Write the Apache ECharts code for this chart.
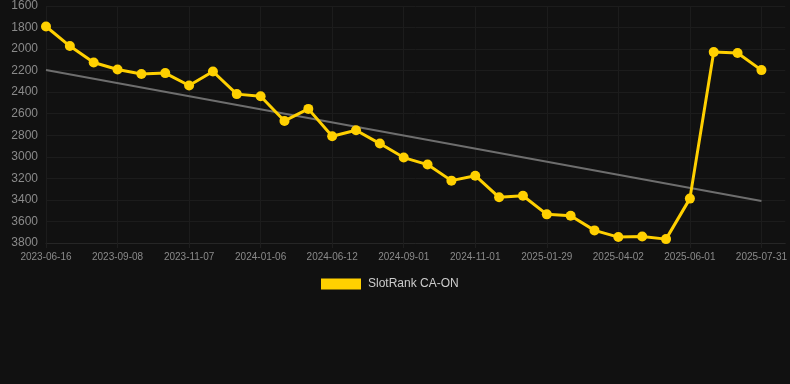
<!DOCTYPE html>
<html>
<head>
<meta charset="utf-8">
<script src="https://cdn.jsdelivr.net/npm/echarts@6/dist/echarts.min.js"></script>
<style>
html,body{margin:0;padding:0;background:#111111;}
#c{width:790px;height:384px;}
</style>
</head>
<body>
<div id="c"></div>
<script>
// Tick labels shown every 3rd point on the x axis
var tickLabels = ['2023-06-16','2023-09-08','2023-11-07','2024-01-06','2024-06-12','2024-09-01','2024-11-01','2025-01-29','2025-04-02','2025-06-01','2025-07-31'];
// SlotRank CA-ON values (31 points)
var rankValues = [1790,1972,2124,2189,2232,2223,2338,2208,2418,2437,2667,2555,2809,2753,2877,3007,3072,3221,3175,3376,3361,3534,3547,3683,3745,3739,3764,3388,2028,2037,2195];
// Trend line end points
var trendStart = 2195;
var trendEnd = 3410;
var yTicks = [1600,3800];

var n = rankValues.length;
var categories = [];
for (var i = 0; i <= n; i++) categories.push(String(i));
var trendData = [];
for (var j = 0; j < n; j++) trendData.push(j === 0 ? trendStart : (j === n - 1 ? trendEnd : null));

var chart = echarts.init(document.getElementById('c'), null, {renderer:'canvas'});
chart.setOption({
  backgroundColor: '#111111',
  animation: false,
  grid: {left: 46, right: 4, top: 6, bottom: 141},
  legend: {
    top: 273, left: 316,
    itemWidth: 40, itemHeight: 11, itemGap: 10,
    icon: 'rect',
    textStyle: {color: '#cccccc', fontSize: 12, padding: [0, 0, 0, 2], fontFamily: 'Liberation Sans, Arial, sans-serif'},
    data: [{name: 'SlotRank CA-ON'}]
  },
  xAxis: {
    type: 'category',
    boundaryGap: false,
    data: categories,
    axisLine: {lineStyle: {color: '#262626'}},
    axisTick: {show: true, interval: 2, length: 5, lineStyle: {color: '#1e1e1e'}},
    splitLine: {show: true, interval: 2, lineStyle: {color: '#1c1c1c'}},
    axisLabel: {
      interval: 2, color: '#8a8a8a', fontSize: 10, margin: 9,
      fontFamily: 'Liberation Sans, Arial, sans-serif',
      formatter: function (v) { var k = Number(v); return (k % 3 === 0 && tickLabels[k/3]) ? tickLabels[k/3] : ''; }
    }
  },
  yAxis: {
    type: 'value',
    inverse: true,
    min: yTicks[0], max: yTicks[1], interval: 200,
    axisLine: {show: false},
    axisTick: {show: false},
    splitLine: {lineStyle: {color: '#1c1c1c'}},
    axisLabel: {color: '#8a8a8a', fontSize: 12, margin: 8, fontFamily: 'Liberation Sans, Arial, sans-serif',
      formatter: function (v) { return String(v); }}
  },
  series: [
    {
      name: 'SlotRank CA-ON',
      type: 'line',
      data: rankValues,
      symbol: 'circle',
      symbolSize: 10,
      itemStyle: {color: '#FFD000'},
      lineStyle: {color: '#FFD000', width: 3},
      z: 3
    },
    {
      name: 'trend',
      type: 'line',
      data: trendData,
      connectNulls: true,
      symbol: 'none',
      lineStyle: {color: '#6e6e6e', width: 2},
      z: 2
    }
  ]
});
</script>
</body>
</html>
